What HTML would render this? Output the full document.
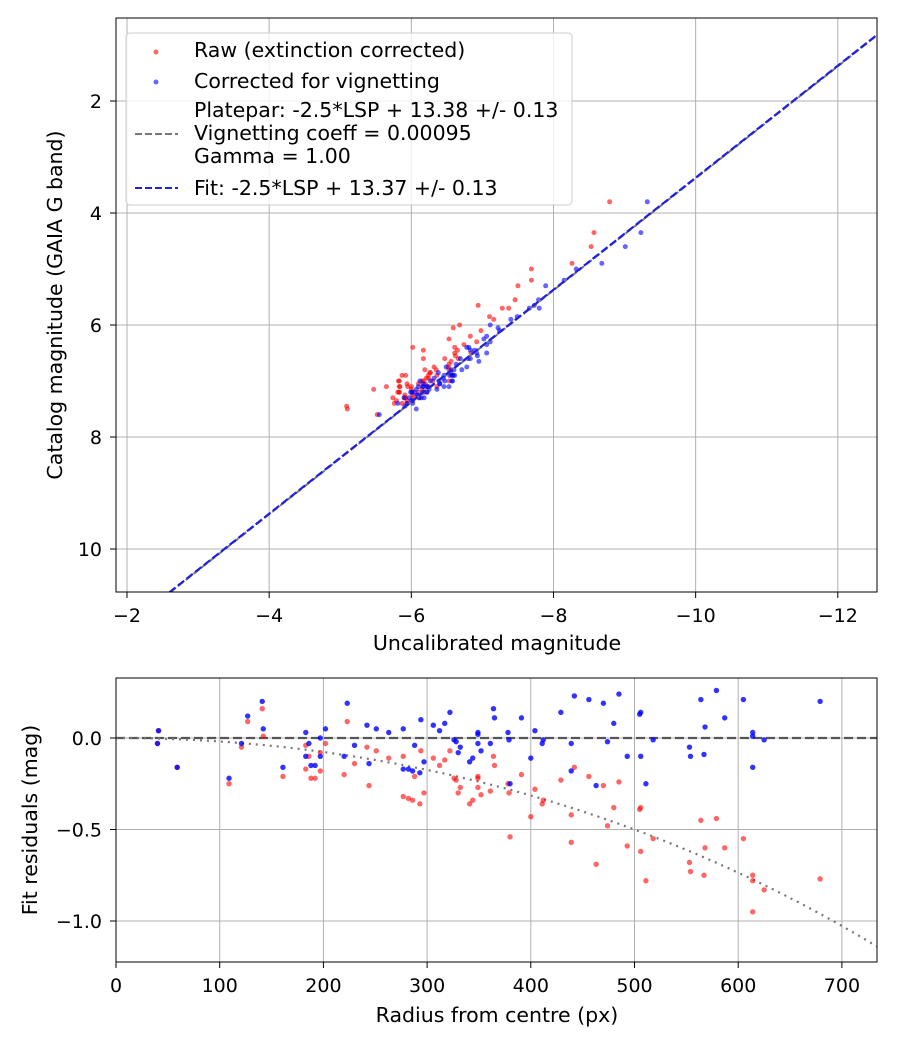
<!DOCTYPE html>
<html><head><meta charset="utf-8">
<style>
html,body{margin:0;padding:0;background:#fff;}
svg{display:block;font-family:"DejaVu Sans","Liberation Sans",sans-serif;}
</style></head>
<body>
<svg id="chart" width="900" height="1050" viewBox="0 0 900 1050" xmlns="http://www.w3.org/2000/svg"></svg>
<script>
// ---- data (one entry per star) ----
const radius = [41,40,59,109,121,127,141,142,161,183,186,183,188,192,197,197,202,223,220,230,242,244,251,263,277,277,282,286,293,294,288,297,306,312,317,322,326,328,332,330,341,344,349,349,349,352,361,364,365,378,379,380,391,400,404,411,412,429,439,439,442,456,463,470,474,480,485,493,505,506,506,511,518,553,554,564,567,568,579,587,605,614,614,614,625,679];
const residCorrected = [0.04,-0.03,-0.16,-0.22,-0.03,0.12,0.20,0.05,-0.16,0.03,-0.03,-0.10,-0.15,-0.15,0.00,-0.10,0.05,0.19,-0.10,-0.04,0.07,-0.14,0.05,0.03,0.05,-0.17,-0.17,-0.18,-0.19,0.10,-0.04,-0.13,0.07,0.04,0.08,0.14,-0.01,-0.02,-0.05,-0.08,-0.13,-0.11,0.03,0.02,-0.03,-0.07,-0.03,0.16,0.11,0.03,-0.01,-0.25,0.11,-0.11,0.04,-0.03,-0.01,0.14,-0.03,-0.18,0.23,0.21,-0.26,0.19,-0.02,0.08,0.24,-0.10,0.13,0.14,-0.10,-0.25,-0.01,-0.05,-0.10,0.21,-0.09,0.06,0.26,0.11,0.21,0.03,0.01,-0.16,-0.01,0.20];
const residRaw = [0.04,-0.03,-0.16,-0.25,-0.05,0.09,0.16,0.01,-0.21,-0.04,-0.10,-0.17,-0.22,-0.22,-0.08,-0.18,-0.03,0.09,-0.20,-0.14,-0.05,-0.26,-0.07,-0.11,-0.10,-0.32,-0.33,-0.34,-0.36,-0.07,-0.21,-0.30,-0.11,-0.15,-0.12,-0.07,-0.22,-0.23,-0.27,-0.30,-0.36,-0.34,-0.21,-0.22,-0.27,-0.31,-0.29,-0.10,-0.15,-0.25,-0.30,-0.54,-0.20,-0.43,-0.28,-0.36,-0.34,-0.23,-0.42,-0.57,-0.16,-0.21,-0.69,-0.26,-0.48,-0.38,-0.24,-0.59,-0.39,-0.38,-0.62,-0.78,-0.55,-0.68,-0.73,-0.45,-0.75,-0.60,-0.44,-0.60,-0.55,-0.75,-0.78,-0.95,-0.83,-0.77];
const catalogMag = [7.3,7.4,7.2,7.6,7.1,6.9,7.0,7.2,7.4,6.8,7.25,7.3,7.15,7.05,7.35,6.95,6.5,7.1,7.0,6.7,7.3,6.85,7.2,6.6,7.4,7.1,7.3,7.2,6.4,7.0,7.25,6.75,6.9,6.3,7.05,7.15,6.8,7.35,7.1,6.6,7.2,6.2,6.95,7.0,6.45,5.9,6.1,6.75,7.3,6.85,5.7,7.0,6.55,7.1,6.35,5.55,7.2,6.9,5.85,5.3,6.65,4.9,6.0,6.5,5.2,7.05,4.6,6.25,5.7,6.8,7.1,3.8,6.9,5.0,6.05,4.35,6.45,6.6,7.1,6.9,7.0,7.15,5.65,6.4,7.45,7.5];
const fitZeroPoint = 13.37;
const plateparZeroPoint = 13.38;
const topXTicks = [-2,-4,-6,-8,-10,-12];
const topYTicks = [2,4,6,8,10];
const botXTicks = [0,100,200,300,400,500,600,700];
const botYTicks = [0.0,-0.5,-1.0];

const NS="http://www.w3.org/2000/svg";
const svg=document.getElementById('chart');
const TICK=19, LAB=20.5;
function mk(tag,attrs,parent){const e=document.createElementNS(NS,tag);for(const k in attrs)e.setAttribute(k,attrs[k]);(parent||svg).appendChild(e);return e;}
function fmtNeg(v,d){const s=Math.abs(v).toFixed(d);return (v<0?'\u2212':'')+s;}

// ---- top axes ----
const T={l:116,r:877,t:18,b:592};
const tx=v=>127+(-2-v)*71.08;
const ty=v=>101+(v-2)*56;
const topG=mk('g',{});


const clipT=mk('clipPath',{id:'clipT'},topG);mk('rect',{x:T.l,y:T.t,width:T.r-T.l,height:T.b-T.t},clipT);
topXTicks.forEach(v=>{const x=tx(v);
 const g=mk('line',{x1:x,x2:x,y1:T.t,y2:T.b,stroke:'#b0b0b0','stroke-width':1},topG);
 
 mk('line',{x1:x,x2:x,y1:T.b,y2:T.b+6,stroke:'#000'},topG);
 const t=mk('text',{x:x,y:T.b+30,'font-size':TICK,'text-anchor':'middle'},topG);t.textContent=fmtNeg(v,0);
 });
topYTicks.forEach(v=>{const y=ty(v);
 const g=mk('line',{x1:T.l,x2:T.r,y1:y,y2:y,stroke:'#b0b0b0','stroke-width':1},topG);
 
 mk('line',{x1:T.l-6,x2:T.l,y1:y,y2:y,stroke:'#000'},topG);
 const t=mk('text',{x:T.l-14,y:y+7,'font-size':TICK,'text-anchor':'end'},topG);t.textContent=String(v);
 });
const ptsT=mk('g',{'clip-path':'url(#clipT)'},topG);
catalogMag.forEach((c,i)=>{const x=c-fitZeroPoint-residRaw[i];
 const p=mk('circle',{cx:tx(x),cy:ty(c),r:2.5,fill:'#ff0000','fill-opacity':0.6},ptsT);
 });
catalogMag.forEach((c,i)=>{const x=c-fitZeroPoint-residCorrected[i];
 const p=mk('circle',{cx:tx(x),cy:ty(c),r:2.5,fill:'#0000ff','fill-opacity':0.6},ptsT);
 });
const xa=-1.5,xb=-13;
const pl=mk('line',{x1:tx(xa),y1:ty(xa+plateparZeroPoint),x2:tx(xb),y2:ty(xb+plateparZeroPoint),stroke:'#777','stroke-width':2,'stroke-dasharray':'7,3'},ptsT);

const fl=mk('line',{x1:tx(xa),y1:ty(xa+fitZeroPoint),x2:tx(xb),y2:ty(xb+fitZeroPoint),stroke:'#2020dd','stroke-width':2.2,'stroke-dasharray':'8,3'},ptsT);

mk('rect',{x:T.l,y:T.t,width:T.r-T.l,height:T.b-T.t,fill:'none',stroke:'#000','stroke-width':1},topG);
let t1=mk('text',{x:497,y:650,'font-size':LAB,'text-anchor':'middle'},topG);t1.textContent='Uncalibrated magnitude';

let t2=mk('text',{x:0,y:0,'font-size':LAB,'text-anchor':'middle',transform:'translate(62,305) rotate(-90)'},topG);t2.textContent='Catalog magnitude (GAIA G band)';


// legend
const lg=mk('g',{},topG);

mk('rect',{x:126,y:33,width:446,height:172,rx:4,fill:'#fff','fill-opacity':0.8,stroke:'#cccccc'},lg);
mk('circle',{cx:156,cy:52,r:2.5,fill:'#ff0000','fill-opacity':0.6},lg);
mk('circle',{cx:156,cy:82,r:2.5,fill:'#0000ff','fill-opacity':0.6},lg);
mk('line',{x1:135,x2:178,y1:134,y2:134,stroke:'#777','stroke-width':2,'stroke-dasharray':'7,3'},lg);
mk('line',{x1:135,x2:178,y1:188,y2:188,stroke:'#2020dd','stroke-width':2,'stroke-dasharray':'7,3'},lg);
[['Raw (extinction corrected)',57],['Corrected for vignetting',88],['Platepar: -2.5*LSP + 13.38 +/- 0.13',117],['Vignetting coeff = 0.00095',140],['Gamma = 1.00',163],['Fit: -2.5*LSP + 13.37 +/- 0.13',195]].forEach(([s,y])=>{
 const t=mk('text',{x:194,y:y,'font-size':LAB},lg);t.textContent=s;
 });

// ---- bottom axes ----
const B={l:116,r:877,t:678,b:962};
const bx=v=>116+v*1.037;
const by=v=>738-v*183;
const botG=mk('g',{});


const clipB=mk('clipPath',{id:'clipB'},botG);mk('rect',{x:B.l,y:B.t,width:B.r-B.l,height:B.b-B.t},clipB);
botXTicks.forEach(v=>{const x=bx(v);
 const g=mk('line',{x1:x,x2:x,y1:B.t,y2:B.b,stroke:'#b0b0b0'},botG);
 
 mk('line',{x1:x,x2:x,y1:B.b,y2:B.b+6,stroke:'#000'},botG);
 const t=mk('text',{x:x,y:B.b+30,'font-size':TICK,'text-anchor':'middle'},botG);t.textContent=String(v);
 });
botYTicks.forEach(v=>{const y=by(v);
 const g=mk('line',{x1:B.l,x2:B.r,y1:y,y2:y,stroke:'#b0b0b0'},botG);
 
 mk('line',{x1:B.l-6,x2:B.l,y1:y,y2:y,stroke:'#000'},botG);
 const t=mk('text',{x:B.l-14,y:y+7,'font-size':TICK,'text-anchor':'end'},botG);t.textContent=fmtNeg(v,1);
 });
const ptsB=mk('g',{'clip-path':'url(#clipB)'},botG);
const zl=mk('line',{x1:B.l,x2:B.r,y1:by(0),y2:by(0),stroke:'#555','stroke-width':2.2,'stroke-dasharray':'9,4'},ptsB);

let d='';for(let r=0;r<=740;r+=5){const v=-(1.9e-6*r*r+4e-13*r*r*r*r);d+=(r?'L':'M')+bx(r).toFixed(1)+','+by(v).toFixed(1);}
const vc=mk('path',{d:d,fill:'none',stroke:'#777','stroke-width':2.2,'stroke-dasharray':'2,5'},ptsB);

radius.forEach((r,i)=>{const p=mk('circle',{cx:bx(r),cy:by(residRaw[i]),r:2.7,fill:'#ff0000','fill-opacity':0.6},ptsB);
 });
radius.forEach((r,i)=>{const p=mk('circle',{cx:bx(r),cy:by(residCorrected[i]),r:2.7,fill:'#0000ff','fill-opacity':0.8},ptsB);
 });
mk('rect',{x:B.l,y:B.t,width:B.r-B.l,height:B.b-B.t,fill:'none',stroke:'#000'},botG);
let t3=mk('text',{x:497,y:1022,'font-size':LAB,'text-anchor':'middle'},botG);t3.textContent='Radius from centre (px)';

let t4=mk('text',{x:0,y:0,'font-size':LAB,'text-anchor':'middle',transform:'translate(37,820) rotate(-90)'},botG);t4.textContent='Fit residuals (mag)';

</script>
</body></html>
